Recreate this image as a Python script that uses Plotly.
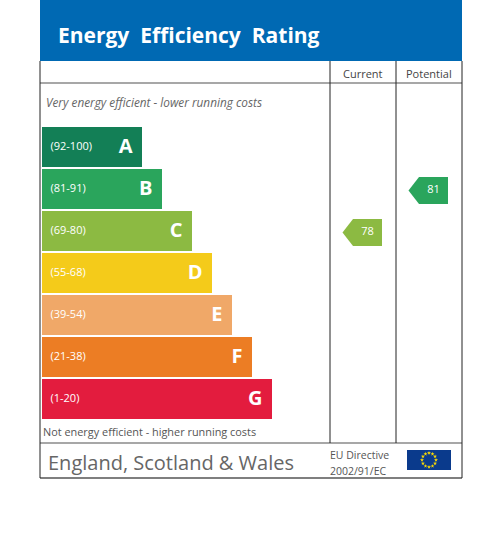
import math
import plotly.graph_objects as go

# rating bands, top (most efficient) to bottom
bands = ["A", "B", "C", "D", "E", "F", "G"]
band_ranges = ["(92-100)", "(81-91)", "(69-80)", "(55-68)", "(39-54)", "(21-38)", "(1-20)"]
band_floor = [92, 81, 69, 55, 39, 21, 1]
band_lengths = [100, 120, 150, 170, 190, 210, 230]
band_colors = ["#137f56", "#2aa55c", "#8cba42", "#f4cb1a", "#f0a868", "#ec7d24", "#e31c3e"]

columns = ["Current", "Potential"]
ratings = [78, 81]

W, H = 500, 555
LEFT, RIGHT = 40, 462
BAR_X0 = 41.5
BAR_TOP, BAR_H, PITCH = 127, 40, 42
COL_X = [330, 396, 462]
HEAD_Y, ROW_Y, FOOT_Y, BOT_Y = 61, 83, 443, 478
FONT = "Open Sans"


def band_of(value):
    for i, lo in enumerate(band_floor):
        if value >= lo:
            return i
    return len(bands) - 1


centers = [BAR_TOP + i * PITCH + BAR_H / 2 for i in range(len(bands))]

fig = go.Figure()

# the bars
fig.add_trace(go.Bar(
    orientation="h", y=centers, x=band_lengths, base=BAR_X0, width=BAR_H,
    marker=dict(color=band_colors, line=dict(width=0)), hoverinfo="skip"))

fig.add_trace(go.Scatter(
    x=[BAR_X0 + 9] * len(bands), y=centers, mode="text", text=band_ranges,
    textposition="middle right", textfont=dict(family=FONT, size=11, color="white"),
    hoverinfo="skip"))

fig.add_trace(go.Scatter(
    x=[BAR_X0 + L - 9 for L in band_lengths], y=[c + 1 for c in centers], mode="text",
    text=["<b>%s</b>" % b for b in bands],
    textposition="middle left", textfont=dict(family=FONT, size=20, color="white"),
    hoverinfo="skip"))

# arrows for current / potential
for k, val in enumerate(ratings):
    i = band_of(val)
    x0 = COL_X[k]
    tip, body, end = x0 + 12.5, x0 + 23, x0 + 52
    cy = centers[i] + 1.5
    hh = 13.5
    fig.add_trace(go.Scatter(
        x=[tip, body, end, end, body, tip], y=[cy, cy - hh, cy - hh, cy + hh, cy + hh, cy],
        mode="lines", fill="toself", fillcolor=band_colors[i], line=dict(width=0),
        hoverinfo="skip"))
    fig.add_trace(go.Scatter(
        x=[(body + end) / 2], y=[cy], mode="text", text=[str(val)],
        textfont=dict(family=FONT, size=11, color="white"), hoverinfo="skip"))

# EU flag stars
fx, fy = 429, 460
fig.add_trace(go.Scatter(
    x=[fx + 7 * math.sin(a * math.pi / 6) for a in range(12)],
    y=[fy - 7 * math.cos(a * math.pi / 6) for a in range(12)],
    mode="markers", marker=dict(symbol="star", size=3, color="#ffdd00", line=dict(width=0)),
    hoverinfo="skip"))

shapes = [
    dict(type="rect", x0=LEFT, x1=RIGHT, y0=-5, y1=HEAD_Y, fillcolor="#0069b3", line=dict(width=0), layer="below"),
    dict(type="rect", x0=407, x1=451, y0=450, y1=470, fillcolor="#0a3a8c", line=dict(width=0), layer="below"),
    dict(type="line", x0=LEFT, x1=RIGHT, y0=ROW_Y, y1=ROW_Y, line=dict(color="#8a8a8a", width=1.5)),
    dict(type="line", x0=LEFT, x1=RIGHT, y0=FOOT_Y, y1=FOOT_Y, line=dict(color="#8a8a8a", width=1.5)),
    dict(type="line", x0=LEFT, x1=RIGHT, y0=BOT_Y, y1=BOT_Y, line=dict(color="#555555", width=1.5)),
    dict(type="line", x0=LEFT, x1=LEFT, y0=HEAD_Y, y1=BOT_Y, line=dict(color="#222222", width=1)),
    dict(type="line", x0=RIGHT, x1=RIGHT, y0=HEAD_Y, y1=BOT_Y, line=dict(color="#222222", width=1)),
]
for cx in COL_X[:2]:
    shapes.append(dict(type="line", x0=cx, x1=cx, y0=HEAD_Y, y1=FOOT_Y, line=dict(color="#222222", width=1)))

annotations = [
    dict(x=56, y=35, text="<b>Energy\u00a0\u00a0Efficiency\u00a0\u00a0Rating</b>", xanchor="left",
         font=dict(family=FONT, size=21, color="white")),
    dict(x=(COL_X[0] + COL_X[1]) / 2, y=73, text=columns[0], font=dict(family=FONT, size=11, color="#444444")),
    dict(x=(COL_X[1] + COL_X[2]) / 2, y=73, text=columns[1], font=dict(family=FONT, size=11, color="#444444")),
    dict(x=44, y=102, text="<i>Very energy efficient - lower running costs</i>", xanchor="left",
         font=dict(family=FONT, size=11.8, color="#666666")),
    dict(x=41, y=431, text="Not energy efficient - higher running costs", xanchor="left",
         font=dict(family=FONT, size=10.9, color="#555555")),
    dict(x=46, y=462, text="England, Scotland & Wales", xanchor="left",
         font=dict(family=FONT, size=20, color="#666666")),
    dict(x=328, y=455, text="EU Directive", xanchor="left", font=dict(family=FONT, size=10.5, color="#555555")),
    dict(x=328, y=471, text="2002/91/EC", xanchor="left", font=dict(family=FONT, size=10.5, color="#555555")),
]
for a in annotations:
    a.update(xref="x", yref="y", showarrow=False, yanchor="middle")

fig.update_layout(
    width=W, height=H, margin=dict(l=0, r=0, t=0, b=0),
    paper_bgcolor="white", plot_bgcolor="white", showlegend=False,
    xaxis=dict(range=[0, W], visible=False, fixedrange=True),
    yaxis=dict(range=[H, 0], visible=False, fixedrange=True),
    shapes=shapes, annotations=annotations, bargap=0,
)

# drop the page's default body margin so the figure sits at the window corner
fig.write_html("out.html", config={"displayModeBar": False},
               post_script="document.body.style.margin='0';")
